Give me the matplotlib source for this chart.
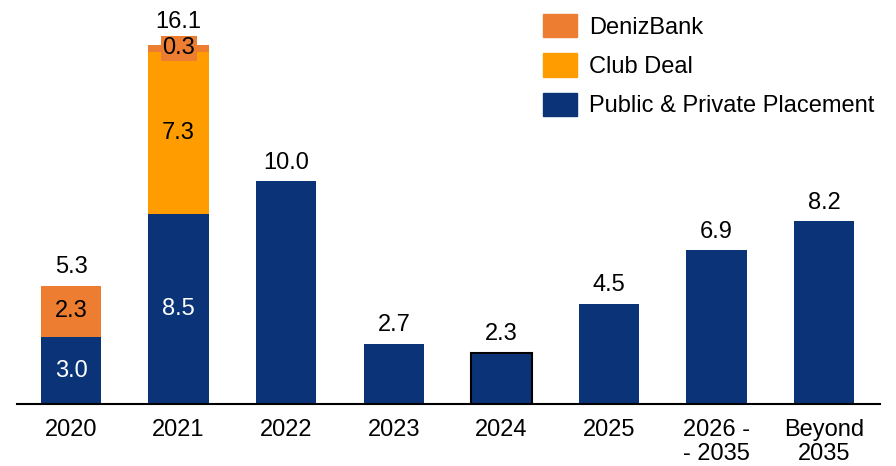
import numpy as np
import matplotlib.pyplot as plt
from matplotlib.patches import Patch

plt.rcParams['font.family'] = ['Liberation Sans', 'DejaVu Sans']

years = ["2020", "2021", "2022", "2023", "2024", "2025", "2026 -\n- 2035", "Beyond\n2035"]
placement = [3.0, 8.5, 10.0, 2.7, 2.3, 4.5, 6.9, 8.2]
club_deal = [0.0, 7.3, 0.0, 0.0, 0.0, 0.0, 0.0, 0.0]
denizbank = [2.3, 0.3, 0.0, 0.0, 0.0, 0.0, 0.0, 0.0]
totals = [5.3, 16.1, 10.0, 2.7, 2.3, 4.5, 6.9, 8.2]

navy = '#0b3478'
club_col = '#ff9c00'
deniz_col = '#ed7d31'

fig = plt.figure(figsize=(8.96, 4.66), dpi=100)
ax = fig.add_axes([0.0, 0.133, 1.0, 0.867])

x = np.arange(len(years))
w = 0.56
pl = np.array(placement)
cd = np.array(club_deal)
db = np.array(denizbank)

edges = ['black' if y == "2024" else 'none' for y in years]
ax.bar(x, pl, w, color=navy, edgecolor=edges, linewidth=1.5)
ax.bar(x, cd, w, bottom=pl, color=club_col)
ax.bar(x, db, w, bottom=pl + cd, color=deniz_col)

fs = 17
for i in range(len(years)):
    thin_top = 0 < db[i] < 1
    off = 16.5 if thin_top else 13.3
    ax.annotate(f"{totals[i]:.1f}", (x[i], totals[i]), xytext=(0, off),
                textcoords='offset points', ha='center', va='center', fontsize=fs)
    if cd[i] > 0 or db[i] > 0:
        ax.text(x[i], pl[i] / 2, f"{pl[i]:.1f}", ha='center', va='center',
                color='white', fontsize=fs)
    if cd[i] > 0:
        ax.text(x[i], pl[i] + cd[i] / 2, f"{cd[i]:.1f}", ha='center', va='center',
                color='black', fontsize=fs)
    if db[i] > 0:
        box = None
        if thin_top:
            box = dict(facecolor=deniz_col, edgecolor='none', pad=1.2)
        ax.text(x[i], pl[i] + cd[i] + db[i] / 2, f"{db[i]:.1f}", ha='center',
                va='center', color='black', fontsize=fs, bbox=box)

ax.set_xlim(-0.66, 7.667)
ax.set_ylim(0, 18.12)
ax.set_xticks(x)
ax.set_xticklabels(years, fontsize=fs, linespacing=1.1)
ax.tick_params(axis='x', length=0, pad=11)
ax.set_yticks([])
for s in ['top', 'right', 'left']:
    ax.spines[s].set_visible(False)
ax.spines['bottom'].set_linewidth(1.5)
ax.spines['bottom'].set_bounds(-0.502, 7.52)

handles = [Patch(color=deniz_col, label='DenizBank'),
           Patch(color=club_col, label='Club Deal'),
           Patch(color=navy, label='Public & Private Placement')]
ax.legend(handles=handles, loc='upper left', bbox_to_anchor=(543 / 896, 1.0 - 14 / 466),
          bbox_transform=fig.transFigure, frameon=False, fontsize=17,
          handlelength=1.44, handleheight=1.15, labelspacing=0.62, handletextpad=0.5,
          borderaxespad=0, borderpad=0)

fig.savefig('out.png', dpi=100)
